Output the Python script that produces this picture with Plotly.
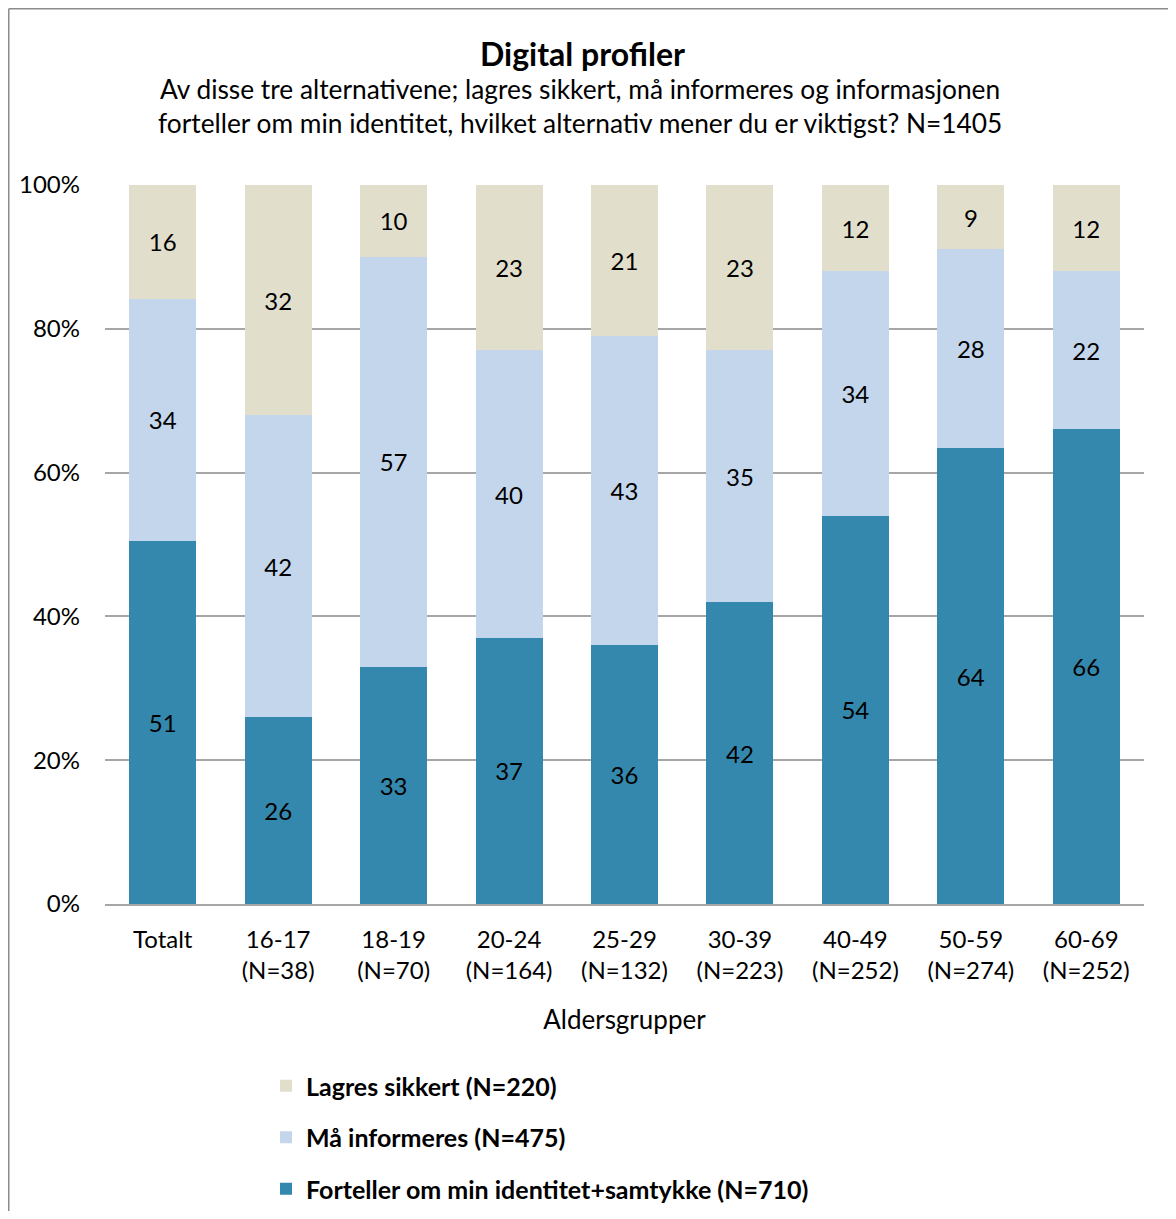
import plotly.graph_objects as go

categories = ["Totalt", "16-17<br>(N=38)", "18-19<br>(N=70)", "20-24<br>(N=164)", "25-29<br>(N=132)",
              "30-39<br>(N=223)", "40-49<br>(N=252)", "50-59<br>(N=274)", "60-69<br>(N=252)"]
forteller = [51, 26, 33, 37, 36, 42, 54, 64, 66]
informeres = [34, 42, 57, 40, 43, 35, 34, 28, 22]
lagres = [16, 32, 10, 23, 21, 23, 12, 9, 12]
y_ticks = [0, 20, 40, 60, 80, 100]
y_ticklabels = ["0%", "20%", "40%", "60%", "80%", "100%"]

series = [
    ("Forteller om min identitet+samtykke (N=710)", forteller, "#3588AD"),
    ("Må informeres (N=475)", informeres, "#C4D6EB"),
    ("Lagres sikkert (N=220)", lagres, "#E1DFCC"),
]

FONT = "Lato, 'Open Sans', sans-serif"
# page has an 8px body margin; figure coordinates are page coordinates minus 8
W, H = 1160, 1203
L, T = 97, 177
PR, PB = 1136, 896          # plot right / bottom in figure px
R, B = W - PR, H - PB
pw, ph = PR - L, PB - T


def px_x(x):
    return (x - L) / pw


def px_y(y):
    return (PB - y) / ph


fig = go.Figure()
for i, (name, vals, col) in enumerate(series):
    fig.add_trace(go.Bar(
        x=categories, y=vals, name=name, marker=dict(color=col, line=dict(width=0)),
        text=vals, texttemplate="%{text}", textposition="inside", insidetextanchor="middle",
        textfont=dict(color="black", size=24, family=FONT),
        legendgroup=f"g{len(series) - i}", legendrank=len(series) - i,
        hoverinfo="skip",
    ))

fig.update_layout(
    width=W, height=H,
    margin=dict(l=L, r=R, t=T, b=B, autoexpand=False),
    barmode="stack", barnorm="percent", bargap=0.42,
    plot_bgcolor="white", paper_bgcolor="white",
    font=dict(family=FONT, color="black", size=24),
    uniformtext=dict(mode="show", minsize=10),
    legend=dict(
        x=px_x(258), xanchor="left", y=px_y(1055), yanchor="top",
        traceorder="grouped", tracegroupgap=16,
        font=dict(size=25, family=FONT, color="black", weight="bold"),
        bgcolor="rgba(0,0,0,0)",
    ),
    showlegend=True,
)

# title + subtitle
fig.add_annotation(text="<b>Digital profiler</b>", xref="paper", yref="paper",
                   x=px_x(574), y=px_y(45), xanchor="center", yanchor="middle",
                   showarrow=False, font=dict(size=32, family=FONT, color="black"))
fig.add_annotation(text="Av disse tre alternativene; lagres sikkert, må informeres og informasjonen",
                   xref="paper", yref="paper", x=px_x(572), y=px_y(81), xanchor="center", yanchor="middle",
                   showarrow=False, font=dict(size=26.3, family=FONT, color="black"))
fig.add_annotation(text="forteller om min identitet, hvilket alternativ mener du er viktigst? N=1405",
                   xref="paper", yref="paper", x=px_x(572), y=px_y(115), xanchor="center", yanchor="middle",
                   showarrow=False, font=dict(size=26.3, family=FONT, color="black"))

fig.update_yaxes(
    range=[0, 100], tickvals=y_ticks, ticktext=y_ticklabels,
    showgrid=True, gridcolor="#A6A6A6", gridwidth=1.5, zeroline=False,
    showline=False, ticks="", tickfont=dict(size=24), ticklabelstandoff=24,
)
fig.update_xaxes(
    showline=True, linecolor="#A6A6A6", linewidth=1.5, ticks="",
    tickfont=dict(size=24), ticklabelstandoff=13,
    title=dict(text="Aldersgrupper", font=dict(size=26), standoff=28),
)

# outer chart border (left and top edges)
fig.add_shape(type="line", xref="paper", yref="paper",
              x0=px_x(0.75), x1=px_x(0.75), y0=px_y(0.75), y1=px_y(H + 5),
              line=dict(color="#8C8C8C", width=1.5))
fig.add_shape(type="line", xref="paper", yref="paper",
              x0=px_x(0.75), x1=px_x(W + 5), y0=px_y(0.75), y1=px_y(0.75),
              line=dict(color="#8C8C8C", width=1.5))

fig.write_html("out.html")
